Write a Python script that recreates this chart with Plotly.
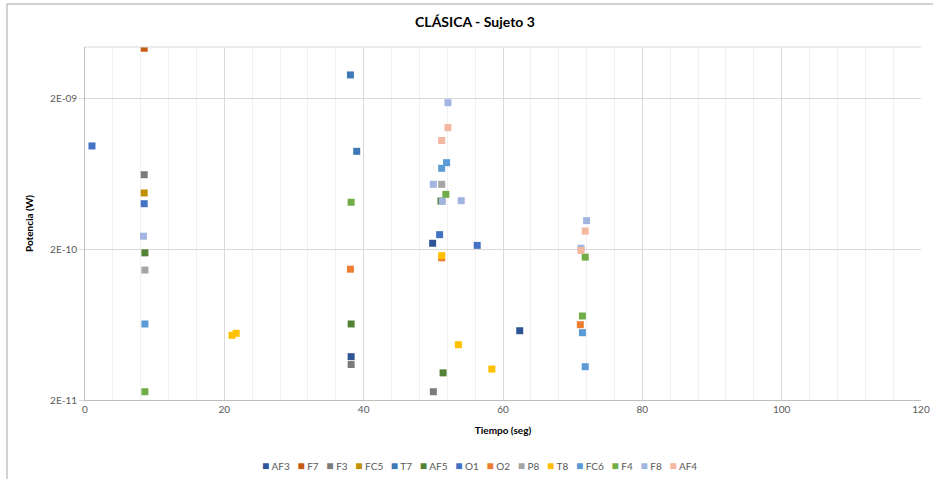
import plotly.graph_objects as go

names = ["AF3", "F7", "F3", "FC5", "T7", "AF5", "O1", "O2", "P8", "T8", "FC6", "F4", "F8", "AF4"]
colors = ["#2F5597", "#C55A11", "#7B7B7B", "#BF9000", "#3E78B5", "#548235", "#4472C4",
          "#ED7D31", "#A5A5A5", "#FFC000", "#5B9BD5", "#70AD47", "#A2B4E0", "#F4B7A0"]

AF3_x = [49.9, 38.2, 62.4]
AF3_y = [2.20e-10, 3.88e-11, 5.77e-11]
F7_x = [8.5]
F7_y = [4.35e-9]
F3_x = [8.5, 38.2, 50.0]
F3_y = [6.28e-10, 3.44e-11, 2.27e-11]
FC5_x = [8.5]
FC5_y = [4.75e-10]
T7_x = [38.1, 39.0]
T7_y = [2.89e-9, 8.98e-10]
AF5_x = [8.6, 38.2, 51.1, 51.4]
AF5_y = [1.90e-10, 6.40e-11, 4.20e-10, 3.03e-11]
O1_x = [1.0, 8.5, 50.9, 56.3]
O1_y = [9.75e-10, 4.03e-10, 2.51e-10, 2.13e-10]
O2_x = [38.1, 71.1, 51.2]
O2_y = [1.48e-10, 6.33e-11, 1.76e-10]
P8_x = [8.6, 51.2]
P8_y = [1.46e-10, 5.42e-10]
T8_x = [21.1, 21.7, 51.2, 53.6, 58.4]
T8_y = [5.38e-11, 5.55e-11, 1.82e-10, 4.66e-11, 3.21e-11]
FC6_x = [8.6, 51.9, 51.2, 71.4, 71.8]
FC6_y = [6.40e-11, 7.55e-10, 6.93e-10, 5.60e-11, 3.33e-11]
F4_x = [8.6, 38.2, 51.8, 71.8, 71.4]
F4_y = [2.27e-11, 4.12e-10, 4.65e-10, 1.78e-10, 7.23e-11]
F8_x = [8.4, 52.1, 50.0, 51.3, 54.0, 72.0, 71.2]
F8_y = [2.45e-10, 1.89e-9, 5.42e-10, 4.18e-10, 4.22e-10, 3.11e-10, 2.04e-10]
AF4_x = [52.1, 51.2, 71.8, 71.2]
AF4_y = [1.29e-9, 1.06e-9, 2.65e-10, 1.97e-10]

series_x = [AF3_x, F7_x, F3_x, FC5_x, T7_x, AF5_x, O1_x, O2_x, P8_x, T8_x, FC6_x, F4_x, F8_x, AF4_x]
series_y = [AF3_y, F7_y, F3_y, FC5_y, T7_y, AF5_y, O1_y, O2_y, P8_y, T8_y, FC6_y, F4_y, F8_y, AF4_y]

y_tickvals = [2e-11, 2e-10, 2e-9]
y_ticktext = ["2E-11", "2E-10", "2E-09"]
x_tickvals = [0, 20, 40, 60, 80, 100, 120]

FONT = "Lato"

fig = go.Figure()
for n, c, xs, ys in zip(names, colors, series_x, series_y):
    fig.add_trace(go.Scatter(x=xs, y=ys, mode="markers", name=n,
                             marker=dict(symbol="square", size=7, color=c,
                                         line=dict(width=0))))

# legend as a single text line
legend_text = "&nbsp;&nbsp;&nbsp;".join(
    f"<span style='color:{c};font-size:12px'>■</span>&nbsp;{n}" for n, c in zip(names, colors))

W, H = 933, 479
L, R, T, B = 85, 12, 47, 79
pw, ph = W - L - R, H - T - B

fig.update_layout(
    width=W, height=H,
    margin=dict(l=L, r=R, t=T, b=B, autoexpand=False),
    paper_bgcolor="white", plot_bgcolor="white",
    showlegend=False,
    font=dict(family=FONT, size=10, color="#595959"),
    title=dict(text="<b>CLÁSICA - Sujeto 3</b>", font=dict(family=FONT, size=14, color="#000000"),
               x=475 / W, xref="container", xanchor="center",
               y=1 - 22 / H, yref="container", yanchor="middle"),
    xaxis=dict(range=[0, 120], tickvals=x_tickvals, showgrid=True, gridcolor="#D9D9D9",
               gridwidth=1, zeroline=False, showline=True, linecolor="#BFBFBF", linewidth=1,
               ticks="", tickfont=dict(family=FONT, size=10, color="#595959"), automargin=False,
               minor=dict(dtick=4, showgrid=True, gridcolor="#F0F0F0", gridwidth=1),
               title=dict(text="<b>Tiempo (seg)</b>", font=dict(family=FONT, size=10, color="#000000"),
                          standoff=12)),
    yaxis=dict(type="log", range=[-10.69897, -8.3535], tickvals=y_tickvals, ticktext=y_ticktext,
               showgrid=True, gridcolor="#D9D9D9", gridwidth=1, zeroline=False,
               showline=True, linecolor="#BFBFBF", linewidth=1, automargin=False,
               ticks="outside", ticklen=5, tickcolor="#D9D9D9",
               tickfont=dict(family=FONT, size=10, color="#595959"),
               title=dict(text="<b>Potencia (W)</b>", font=dict(family=FONT, size=10, color="#000000"),
                          standoff=14)),
    annotations=[dict(text=legend_text, xref="paper", yref="paper",
                      x=(479 - L) / pw, y=(H - B - 465) / ph, xanchor="center", yanchor="middle",
                      showarrow=False, font=dict(family=FONT, size=10, color="#595959"))],
    shapes=[
        dict(type="line", xref="paper", yref="paper", x0=0, x1=1, y0=1, y1=1,
             line=dict(color="#D9D9D9", width=1)),
        dict(type="rect", xref="paper", yref="paper",
             x0=(7 - L) / pw, x1=(945 - L) / pw, y0=(H - B - 495) / ph, y1=(H - B - 4) / ph,
             line=dict(color="#A6A6A6", width=1)),
    ],
)

fig.write_html("out.html", config={"displayModeBar": False},
               post_script="document.body.style.margin='0';")
